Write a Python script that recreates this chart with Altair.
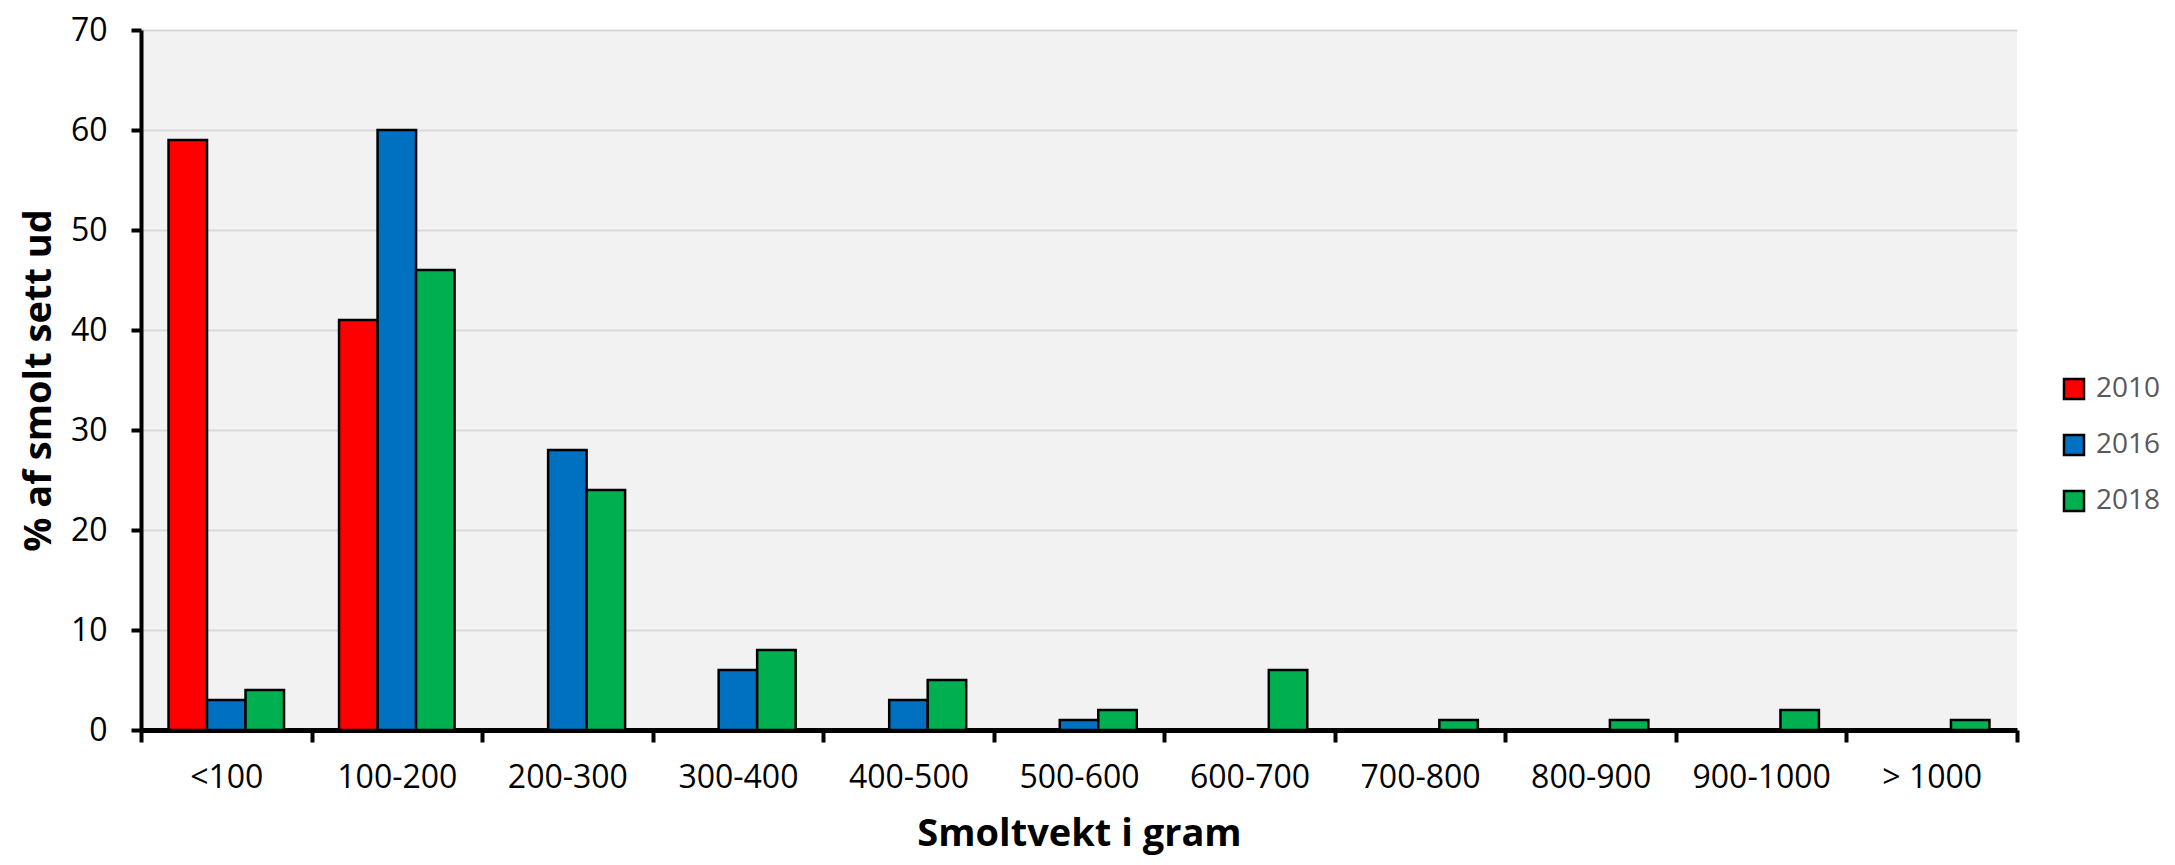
import altair as alt
import pandas as pd

categories = ["<100", "100-200", "200-300", "300-400", "400-500", "500-600",
              "600-700", "700-800", "800-900", "900-1000", "> 1000"]
years = ["2010", "2016", "2018"]
v2010 = [59, 41, 0, 0, 0, 0, 0, 0, 0, 0, 0]
v2016 = [3, 60, 28, 6, 3, 1, 0, 0, 0, 0, 0]
v2018 = [4, 46, 24, 8, 5, 2, 6, 1, 1, 2, 1]
colors = ["#FF0000", "#0070C0", "#00B050"]
y_ticks = [0, 10, 20, 30, 40, 50, 60, 70]

rows = []
for yr, vals in zip(years, [v2010, v2016, v2018]):
    for c, v in zip(categories, vals):
        rows.append({"Kategori": c, "Aar": yr, "Prosent": v})
df = pd.DataFrame(rows)

FONT = "Open Sans"

chart = alt.Chart(df).transform_filter("datum.Prosent > 0").mark_bar(
    stroke="black", strokeWidth=2.5
).encode(
    x=alt.X("Kategori:N", sort=categories,
            scale=alt.Scale(domain=categories, paddingInner=0, paddingOuter=0),
            axis=alt.Axis(title="Smoltvekt i gram", labelAngle=0, tickBand="extent",
                          labelFontSize=32, labelFont=FONT, labelColor="black",
                          labelPadding=20, tickSize=12, tickWidth=4, tickColor="black",
                          domainColor="black", domainWidth=5, grid=False,
                          titleFont=FONT, titleFontSize=38, titleFontWeight="bold",
                          titleColor="black", titlePadding=22)),
    xOffset=alt.XOffset("Aar:N", scale=alt.Scale(domain=years, paddingInner=0, paddingOuter=0.715)),
    y=alt.Y("Prosent:Q", scale=alt.Scale(domain=[0, 70], nice=False),
            axis=alt.Axis(title="% af smolt sett ud", values=y_ticks,
                          labelFontSize=32, labelFont=FONT, labelColor="black",
                          labelPadding=24, tickSize=10, tickWidth=4, tickColor="black",
                          domainColor="black", domainWidth=4,
                          gridColor="#D9D9D9", gridWidth=2,
                          titleFont=FONT, titleFontSize=38, titleFontWeight="bold",
                          titleColor="black", titlePadding=12)),
    color=alt.Color("Aar:N", scale=alt.Scale(domain=years, range=colors),
                    legend=alt.Legend(title=None, orient="none", legendX=1919, legendY=345,
                                      labelFontSize=28, labelFont=FONT, labelColor="#595959",
                                      symbolType="square", symbolSize=400,
                                      symbolStrokeColor="black", symbolStrokeWidth=2.5,
                                      rowPadding=26, labelOffset=8, padding=0)),
).properties(
    width=1876, height=700,
    padding={"left": 12, "top": 6, "right": 5, "bottom": 8},
).configure_view(fill="#F2F2F2", strokeWidth=0)

chart.save("out.html", embed_options={"renderer": "svg", "actions": False})
